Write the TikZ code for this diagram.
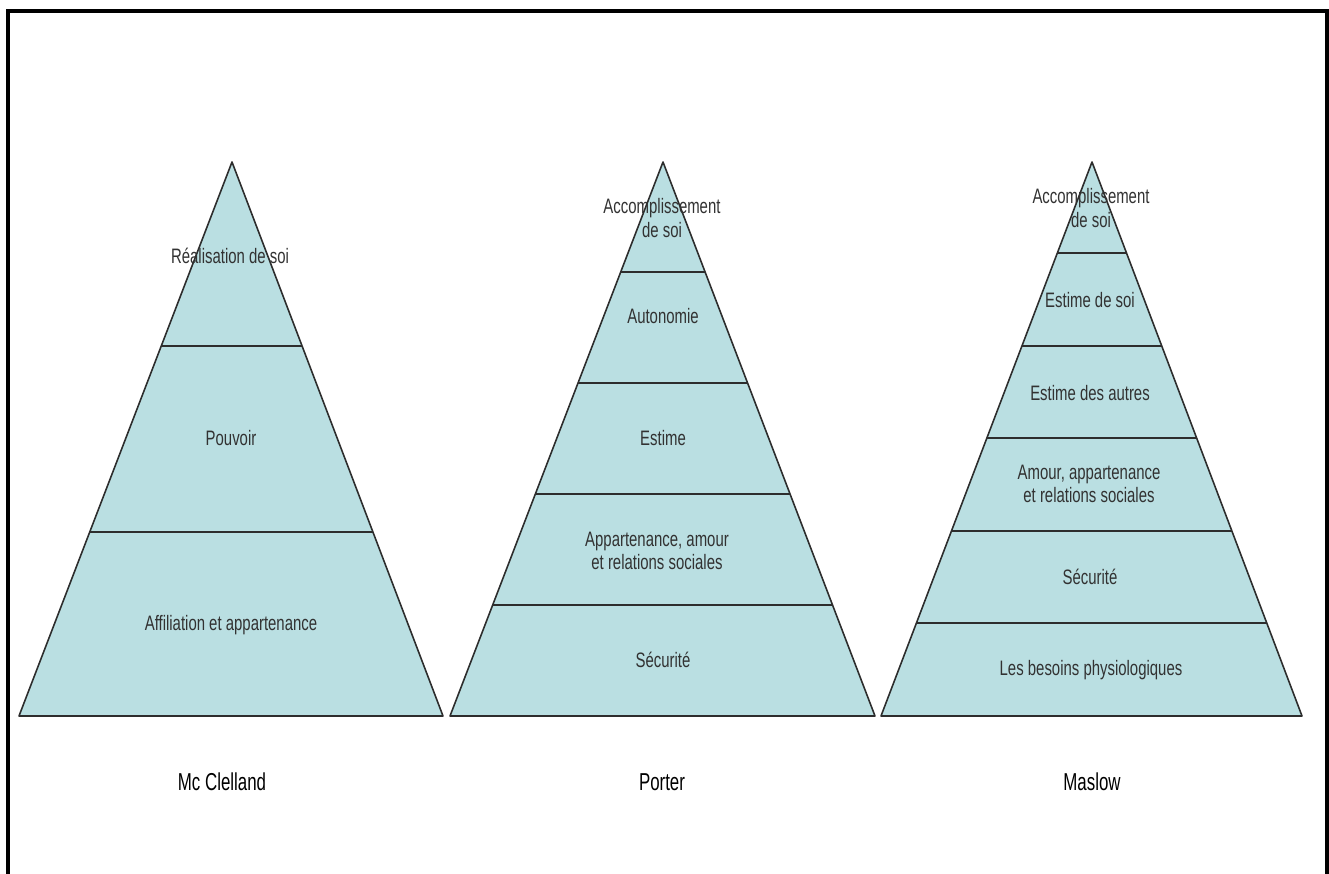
\documentclass[tikz,border=0pt]{standalone}
\usepackage{fontspec}
\setmainfont{Liberation Sans}
\usetikzlibrary{calc}
\definecolor{mteal}{RGB}{186, 223, 226}
\definecolor{mgray}{RGB}{45, 45, 45}
\definecolor{mtext}{RGB}{50, 50, 50}
\tikzset{layer/.style = {fill = mteal, draw = mgray, line width = 0.9pt, line join = round}}
\tikzset{band/.style = {draw = mgray, line width = 0.9pt}}
\tikzset{lbl/.style = {font = \fontsize{8.5}{9.5}\selectfont, align = center, yscale = 1.4, text = mtext, inner sep = 0}}
\tikzset{ttl/.style = {font = \fontsize{9.6}{11}\selectfont, yscale = 1.45, inner sep = 0}}

\begin{document}
\begin{tikzpicture}[x = 0.02cm, y = -0.02cm]
       \useasboundingbox (0, 0) rectangle (1329, 874);
       \clip (0, 0) rectangle (1329, 874);
       \draw [line width = 1.8pt] (8, 900) -- (8, 11) -- (1327, 11) -- (1327, 900);

       % Mc Clelland
       \coordinate (mcA) at (232, 162);
       \coordinate (mcL) at (19, 716);
       \coordinate (mcR) at (443, 716);
       \draw [layer] (mcA) -- (mcL) -- (mcR) -- cycle;
       \foreach \y [evaluate = \y as \t using (\y - 162)/554] in {346, 532}
              \draw [band] ($(mcA)!\t!(mcL)$) -- ($(mcA)!\t!(mcR)$);
       \node [lbl] (mc1) at (230, 256) {Réalisation de soi};
       \node [lbl] (mc2) at (231, 438) {Pouvoir};
       \node [lbl] (mc3) at (231, 625) {Affiliation et appartenance};
       \node [ttl] (mcT) at (222, 782) {Mc Clelland};

       % Porter
       \coordinate (poA) at (663, 162);
       \coordinate (poL) at (450, 716);
       \coordinate (poR) at (875, 716);
       \draw [layer] (poA) -- (poL) -- (poR) -- cycle;
       \foreach \y [evaluate = \y as \t using (\y - 162)/554] in {272, 383, 494, 605}
              \draw [band] ($(poA)!\t!(poL)$) -- ($(poA)!\t!(poR)$);
       \node [lbl] (po1) at (662, 218) {Accomplissement\\de soi};
       \node [lbl] (po2) at (663, 316) {Autonomie};
       \node [lbl] (po3) at (663, 438) {Estime};
       \node [lbl] (po4) at (657, 551) {Appartenance, amour\\et relations sociales};
       \node [lbl] (po5) at (663, 660) {Sécurité};
       \node [ttl] (poT) at (662, 782) {Porter};

       % Maslow
       \coordinate (maA) at (1092, 162);
       \coordinate (maL) at (881, 716);
       \coordinate (maR) at (1302, 716);
       \draw [layer] (maA) -- (maL) -- (maR) -- cycle;
       \foreach \y [evaluate = \y as \t using (\y - 162)/554] in {253, 346, 438, 531, 623}
              \draw [band] ($(maA)!\t!(maL)$) -- ($(maA)!\t!(maR)$);
       \node [lbl] (ma1) at (1091, 208) {Accomplissement\\de soi};
       \node [lbl] (ma2) at (1090, 300) {Estime de soi};
       \node [lbl] (ma3) at (1090, 393) {Estime des autres};
       \node [lbl] (ma4) at (1089, 484) {Amour, appartenance\\et relations sociales};
       \node [lbl] (ma5) at (1090, 577) {Sécurité};
       \node [lbl] (ma6) at (1091, 670) {Les besoins physiologiques};
       \node [ttl] (maT) at (1092, 782) {Maslow};
\end{tikzpicture}
\end{document}
